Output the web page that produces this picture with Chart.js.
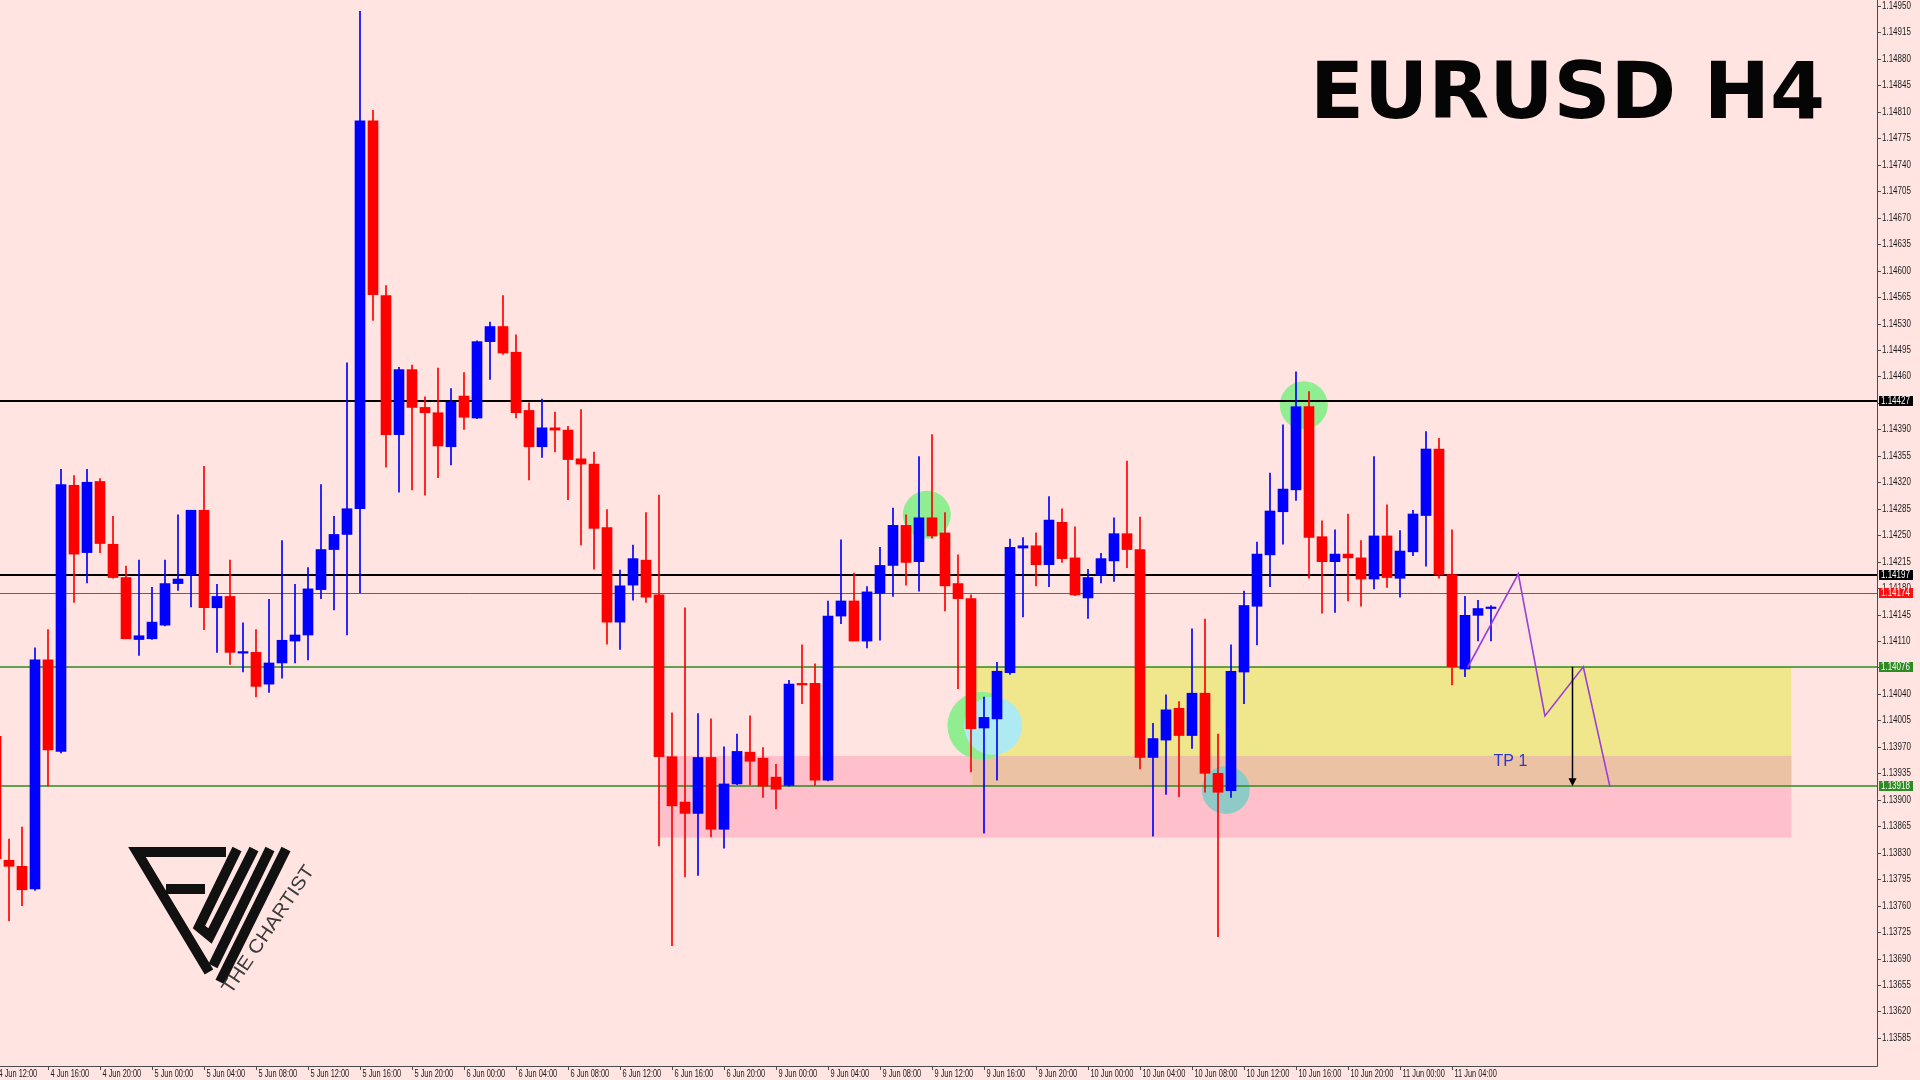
<!DOCTYPE html>
<html>
<head>
<meta charset="utf-8">
<title>EURUSD H4</title>
<script src="https://cdn.jsdelivr.net/npm/chart.js@4.4.1/dist/chart.umd.min.js"></script>
<style>
    html, body { margin: 0; padding: 0; background: #ffe4e1; overflow: hidden; }
    canvas { display: block; }
</style>
</head>
<body>
<canvas id="eurusdChart" width="1920" height="1080"></canvas>
<script>
// H1 candles, 4 Jun 12:00 -> 11 Jun 07:00
var opens = [
    1.13984, 1.13820, 1.13812, 1.13782, 1.14085, 1.13964, 1.14316, 1.14227, 1.14321, 1.14238,
    1.14194, 1.14112, 1.14113, 1.14131, 1.14186, 1.14198, 1.14283, 1.14154, 1.14169, 1.14094,
    1.14095, 1.14053, 1.14081, 1.14110, 1.14118, 1.14178, 1.14231, 1.14251, 1.14285, 1.14798,
    1.14567, 1.14383, 1.14469, 1.14419, 1.14412, 1.14367, 1.14434, 1.14405, 1.14506, 1.14526,
    1.14492, 1.14415, 1.14367, 1.14392, 1.14389, 1.14351, 1.14344, 1.14260, 1.14135, 1.14184,
    1.14217, 1.14171, 1.13957, 1.13897, 1.13882, 1.13956, 1.13861, 1.13921, 1.13963, 1.13955,
    1.13930, 1.13919, 1.14054, 1.14054, 1.13926, 1.14143, 1.14163, 1.14110, 1.14173, 1.14210,
    1.14263, 1.14215, 1.14273, 1.14253, 1.14186, 1.14166, 1.13995, 1.14007, 1.14068, 1.14233,
    1.14236, 1.14211, 1.14267, 1.14220, 1.14167, 1.14197, 1.14216, 1.14252, 1.14231, 1.13956,
    1.13979, 1.14021, 1.13985, 1.14041, 1.13935, 1.13912, 1.14069, 1.14156, 1.14224, 1.14281,
    1.14310, 1.14420, 1.14248, 1.14215, 1.14225, 1.14220, 1.14192, 1.14249, 1.14193, 1.14228,
    1.14276, 1.14364, 1.14198, 1.14073, 1.14144, 1.14153
];
var highs = [
    1.13990, 1.13848, 1.13864, 1.14101, 1.14125, 1.14337, 1.14329, 1.14337, 1.14325, 1.14275,
    1.14209, 1.14217, 1.14181, 1.14217, 1.14277, 1.14283, 1.14341, 1.14185, 1.14217, 1.14134,
    1.14125, 1.14165, 1.14243, 1.14185, 1.14207, 1.14317, 1.14275, 1.14478, 1.14943, 1.14812,
    1.14580, 1.14472, 1.14475, 1.14433, 1.14471, 1.14444, 1.14465, 1.14507, 1.14532, 1.14567,
    1.14515, 1.14425, 1.14430, 1.14413, 1.14394, 1.14416, 1.14360, 1.14284, 1.14204, 1.14237,
    1.14280, 1.14303, 1.14015, 1.14154, 1.14014, 1.14007, 1.13970, 1.13987, 1.14011, 1.13969,
    1.13947, 1.14058, 1.14105, 1.14080, 1.14163, 1.14244, 1.14200, 1.14182, 1.14234, 1.14286,
    1.14277, 1.14354, 1.14383, 1.14280, 1.14224, 1.14171, 1.14036, 1.14082, 1.14245, 1.14247,
    1.14253, 1.14301, 1.14285, 1.14261, 1.14205, 1.14226, 1.14273, 1.14348, 1.14274, 1.14001,
    1.14039, 1.14030, 1.14126, 1.14139, 1.13987, 1.14105, 1.14176, 1.14241, 1.14332, 1.14396,
    1.14466, 1.14440, 1.14269, 1.14257, 1.14278, 1.14243, 1.14354, 1.14290, 1.14256, 1.14283,
    1.14387, 1.14378, 1.14257, 1.14169, 1.14164, 1.14157
];
var lows = [
    1.13810, 1.13740, 1.13760, 1.13780, 1.13918, 1.13962, 1.14161, 1.14187, 1.14227, 1.14193,
    1.14113, 1.14091, 1.14112, 1.14130, 1.14177, 1.14155, 1.14125, 1.14095, 1.14079, 1.14069,
    1.14036, 1.14042, 1.14061, 1.14081, 1.14085, 1.14166, 1.14151, 1.14118, 1.14174, 1.14534,
    1.14340, 1.14307, 1.14310, 1.14303, 1.14326, 1.14343, 1.14390, 1.14404, 1.14456, 1.14489,
    1.14405, 1.14323, 1.14353, 1.14360, 1.14297, 1.14237, 1.14205, 1.14106, 1.14099, 1.14164,
    1.14161, 1.13839, 1.13707, 1.13798, 1.13800, 1.13851, 1.13836, 1.13920, 1.13920, 1.13903,
    1.13888, 1.13918, 1.14027, 1.13919, 1.13925, 1.14133, 1.14110, 1.14101, 1.14111, 1.14169,
    1.14184, 1.14176, 1.14246, 1.14150, 1.14047, 1.13937, 1.13856, 1.13926, 1.14066, 1.14142,
    1.14183, 1.14182, 1.14214, 1.14170, 1.14140, 1.14187, 1.14189, 1.14207, 1.13941, 1.13852,
    1.13907, 1.13904, 1.13968, 1.13910, 1.13719, 1.13903, 1.14027, 1.14105, 1.14182, 1.14238,
    1.14296, 1.14193, 1.14147, 1.14148, 1.14163, 1.14156, 1.14179, 1.14181, 1.14168, 1.14223,
    1.14209, 1.14193, 1.14052, 1.14063, 1.14110, 1.14110
];
var closes = [
    1.13822, 1.13812, 1.13781, 1.14085, 1.13966, 1.14317, 1.14225, 1.14320, 1.14239, 1.14194,
    1.14113, 1.14117, 1.14135, 1.14186, 1.14192, 1.14283, 1.14154, 1.14169, 1.14095, 1.14096,
    1.14050, 1.14081, 1.14111, 1.14118, 1.14179, 1.14231, 1.14251, 1.14285, 1.14798, 1.14568,
    1.14383, 1.14469, 1.14419, 1.14412, 1.14368, 1.14426, 1.14406, 1.14506, 1.14526, 1.14491,
    1.14412, 1.14367, 1.14392, 1.14389, 1.14350, 1.14344, 1.14259, 1.14135, 1.14183, 1.14219,
    1.14168, 1.13957, 1.13892, 1.13882, 1.13956, 1.13861, 1.13921, 1.13964, 1.13951, 1.13918,
    1.13914, 1.14053, 1.14052, 1.13926, 1.14143, 1.14163, 1.14110, 1.14175, 1.14210, 1.14263,
    1.14214, 1.14273, 1.14249, 1.14183, 1.14166, 1.13994, 1.14009, 1.14070, 1.14234, 1.14236,
    1.14211, 1.14270, 1.14219, 1.14171, 1.14194, 1.14219, 1.14252, 1.14231, 1.13956, 1.13981,
    1.14019, 1.13985, 1.14041, 1.13935, 1.13910, 1.14070, 1.14157, 1.14225, 1.14282, 1.14311,
    1.14420, 1.14247, 1.14215, 1.14225, 1.14220, 1.14192, 1.14249, 1.14194, 1.14229, 1.14278,
    1.14364, 1.14198, 1.14076, 1.14144, 1.14153, 1.14155
];

// time axis: one label every 4 bars
var timeLabels = [
    '4 Jun 12:00', '4 Jun 16:00', '4 Jun 20:00', '5 Jun 00:00', '5 Jun 04:00', '5 Jun 08:00',
    '5 Jun 12:00', '5 Jun 16:00', '5 Jun 20:00', '6 Jun 00:00', '6 Jun 04:00', '6 Jun 08:00',
    '6 Jun 12:00', '6 Jun 16:00', '6 Jun 20:00', '9 Jun 00:00', '9 Jun 04:00', '9 Jun 08:00',
    '9 Jun 12:00', '9 Jun 16:00', '9 Jun 20:00', '10 Jun 00:00', '10 Jun 04:00', '10 Jun 08:00',
    '10 Jun 12:00', '10 Jun 16:00', '10 Jun 20:00', '11 Jun 00:00', '11 Jun 04:00'
];
var priceTicks = [
    '1.14950', '1.14915', '1.14880', '1.14845', '1.14810', '1.14775', '1.14740', '1.14705',
    '1.14670', '1.14635', '1.14600', '1.14565', '1.14530', '1.14495', '1.14460', '1.14425',
    '1.14390', '1.14355', '1.14320', '1.14285', '1.14250', '1.14215', '1.14180', '1.14145',
    '1.14110', '1.14075', '1.14040', '1.14005', '1.13970', '1.13935', '1.13900', '1.13865',
    '1.13830', '1.13795', '1.13760', '1.13725', '1.13690', '1.13655', '1.13620', '1.13585'
];

// horizontal levels
var levelPrices = [1.14427, 1.14197, 1.14174, 1.14076, 1.13918];
var levelKinds = ['black', 'black', 'bid', 'green', 'green'];

// zones (bar index from/to, price top/bottom)
var demandZone = [51, 138.1, 1.13958, 1.13850];
var supportZone = [75.1, 138.1, 1.14076, 1.13918];

// marked points (bar index, price)
var markX = [71.6, 100.6, 75.8, 76.7, 94.6];
var markY = [1.14277, 1.14422, 1.13998, 1.13998, 1.13913];

// projected path
var pathX = [113.2, 117.1, 119.15, 122.1, 124.15];
var pathY = [1.14075, 1.14199, 1.14011, 1.14076, 1.13917];
var targetX = 121.2;
var targetFrom = 1.14076;
var targetTo = 1.13918;

var bodies = [];
var wicks = [];
var candleColors = [];
for (var i = 0; i < opens.length; i++) {
    bodies.push({ x: i, y: [opens[i], closes[i]] });
    wicks.push({ x: i, y: [lows[i], highs[i]] });
    candleColors.push(closes[i] >= opens[i] ? '#0000ff' : '#ff0000');
}

var levelStyle = {
    black: { line: '#000000', width: 2, box: '#000000' },
    bid: { line: '#ff2020', width: 1, box: '#ff1010' },
    green: { line: '#2e8b22', width: 1.5, box: '#2e8b22' }
};

function squeezeText(ctx, text, px, py, sx) {
    ctx.save();
    ctx.translate(px, py);
    ctx.scale(sx, 1);
    ctx.fillText(text, 0, 0);
    ctx.restore();
}

function drawZone(ctx, x, y, z, color) {
    var x1 = x.getPixelForValue(z[0]);
    var x2 = x.getPixelForValue(z[1]);
    var y1 = y.getPixelForValue(z[2]);
    var y2 = y.getPixelForValue(z[3]);
    ctx.fillStyle = color;
    ctx.fillRect(x1, y1, x2 - x1, y2 - y1);
}

// "FW / THE CHARTIST" watermark, bottom left
function drawLogo(ctx) {
    ctx.save();
    ctx.strokeStyle = '#111111';
    ctx.lineWidth = 10;
    ctx.lineJoin = 'miter';
    ctx.lineCap = 'butt';
    var strokes = [
        [[226, 852], [137, 852], [209, 972]],
        [[166, 889], [205, 889]],
        [[237, 849], [199, 927], [210, 936], [254, 849]],
        [[270, 849], [213, 966]],
        [[286, 849], [220, 982]]
    ];
    strokes.forEach(function (s) {
        ctx.beginPath();
        ctx.moveTo(s[0][0], s[0][1]);
        for (var k = 1; k < s.length; k++) ctx.lineTo(s[k][0], s[k][1]);
        ctx.stroke();
    });
    ctx.translate(231, 995);
    ctx.rotate(-56 * Math.PI / 180);
    ctx.fillStyle = '#3a3a3a';
    ctx.font = '19px "Liberation Sans", Arial, sans-serif';
    var tw = ctx.measureText('THE CHARTIST').width;
    ctx.scale(150 / tw, 1);
    ctx.fillText('THE CHARTIST', 0, 0);
    ctx.restore();
}

var chartDecor = {
    id: 'chartDecor',
    beforeDraw: function (chart) {
        var ctx = chart.ctx;
        ctx.save();
        ctx.fillStyle = '#ffe4e1';
        ctx.fillRect(0, 0, chart.width, chart.height);
        ctx.restore();
    },
    beforeDatasetsDraw: function (chart) {
        var ctx = chart.ctx;
        var x = chart.scales.x;
        var y = chart.scales.y;
        var area = chart.chartArea;
        ctx.save();
        ctx.beginPath();
        ctx.rect(area.left, area.top, area.right - area.left, area.bottom - area.top);
        ctx.clip();

        drawZone(ctx, x, y, demandZone, '#ffc0cb');
        drawZone(ctx, x, y, supportZone, '#f0e68c');
        var overlap = [
            Math.max(demandZone[0], supportZone[0]), Math.min(demandZone[1], supportZone[1]),
            Math.min(demandZone[2], supportZone[2]), Math.max(demandZone[3], supportZone[3])
        ];
        drawZone(ctx, x, y, overlap, '#ecc2a4');

        // circles
        var markColors = ['#90ee90', '#90ee90', '#90ee90', '#aeeaf2', '#8fcac6'];
        var markRadius = [24, 24, 34, 29, 24];
        for (var m = 0; m < markX.length; m++) {
            ctx.beginPath();
            ctx.fillStyle = markColors[m];
            ctx.arc(x.getPixelForValue(markX[m]), y.getPixelForValue(markY[m]), markRadius[m], 0, Math.PI * 2);
            ctx.fill();
        }

        // levels
        for (var l = 0; l < levelPrices.length; l++) {
            var st = levelStyle[levelKinds[l]];
            var py = Math.round(y.getPixelForValue(levelPrices[l])) + (st.width === 1 ? 0.5 : 0);
            ctx.beginPath();
            ctx.strokeStyle = st.line;
            ctx.lineWidth = st.width;
            ctx.moveTo(area.left, py);
            ctx.lineTo(area.right, py);
            ctx.stroke();
        }
        ctx.restore();
    },
    afterDatasetsDraw: function (chart) {
        var ctx = chart.ctx;
        var x = chart.scales.x;
        var y = chart.scales.y;
        ctx.save();
        // projected zigzag
        ctx.strokeStyle = '#9b3fd6';
        ctx.lineWidth = 1.6;
        ctx.beginPath();
        for (var p = 0; p < pathX.length; p++) {
            var px = x.getPixelForValue(pathX[p]);
            var py = y.getPixelForValue(pathY[p]);
            if (p === 0) ctx.moveTo(px, py); else ctx.lineTo(px, py);
        }
        ctx.stroke();

        // target arrow
        var ax = Math.round(x.getPixelForValue(targetX)) + 0.5;
        var ay1 = y.getPixelForValue(targetFrom);
        var ay2 = y.getPixelForValue(targetTo);
        ctx.strokeStyle = '#000000';
        ctx.lineWidth = 1.5;
        ctx.beginPath();
        ctx.moveTo(ax, ay1);
        ctx.lineTo(ax, ay2 - 6);
        ctx.stroke();
        ctx.fillStyle = '#000000';
        ctx.beginPath();
        ctx.moveTo(ax - 4, ay2 - 8);
        ctx.lineTo(ax + 4, ay2 - 8);
        ctx.lineTo(ax, ay2);
        ctx.closePath();
        ctx.fill();

        // TP label
        ctx.fillStyle = '#2f35c8';
        ctx.font = '16px "Liberation Sans", Arial, sans-serif';
        ctx.textBaseline = 'middle';
        ctx.fillText('TP 1', x.getPixelForValue(115.2), y.getPixelForValue(1.13951));
        ctx.restore();
    },
    afterDraw: function (chart) {
        var ctx = chart.ctx;
        var x = chart.scales.x;
        var y = chart.scales.y;
        var area = chart.chartArea;
        ctx.save();

        // frame
        ctx.strokeStyle = '#4a4a4a';
        ctx.lineWidth = 1;
        ctx.beginPath();
        ctx.moveTo(area.right + 0.5, 0);
        ctx.lineTo(area.right + 0.5, area.bottom + 0.5);
        ctx.lineTo(0, area.bottom + 0.5);
        ctx.stroke();

        // price scale
        ctx.fillStyle = '#1a1a1a';
        ctx.font = '10px "Liberation Sans", Arial, sans-serif';
        ctx.textBaseline = 'middle';
        priceTicks.forEach(function (t) {
            var py = Math.round(y.getPixelForValue(parseFloat(t))) + 0.5;
            ctx.beginPath();
            ctx.moveTo(area.right, py);
            ctx.lineTo(area.right + 4, py);
            ctx.stroke();
            squeezeText(ctx, t, area.right + 5, py, 0.8);
        });

        // time scale
        ctx.textBaseline = 'alphabetic';
        timeLabels.forEach(function (t, k) {
            var px = Math.round(x.getPixelForValue(k * 4)) + 0.5;
            ctx.beginPath();
            ctx.moveTo(px, area.bottom);
            ctx.lineTo(px, area.bottom + 4);
            ctx.stroke();
            squeezeText(ctx, t, px + 2, area.bottom + 11, 0.74);
        });

        // level price boxes
        ctx.textBaseline = 'middle';
        for (var l = 0; l < levelPrices.length; l++) {
            var st = levelStyle[levelKinds[l]];
            var by = Math.round(y.getPixelForValue(levelPrices[l]));
            ctx.fillStyle = st.box;
            ctx.fillRect(area.right + 2, by - 5, 34, 10);
            ctx.fillStyle = '#ffffff';
            squeezeText(ctx, levelPrices[l].toFixed(5), area.right + 4, by + 0.5, 0.8);
        }

        // title
        ctx.fillStyle = '#050505';
        ctx.font = 'bold 78px "DejaVu Sans", sans-serif';
        ctx.textBaseline = 'alphabetic';
        var title = 'EURUSD H4';
        var tw = ctx.measureText(title).width;
        squeezeText(ctx, title, 1310, 118, 515 / tw);

        drawLogo(ctx);
        ctx.restore();
    }
};

new Chart(document.getElementById('eurusdChart'), {
    type: 'bar',
    data: {
        datasets: [{
            label: 'wick',
            data: wicks,
            backgroundColor: candleColors,
            barThickness: 1,
            grouped: false,
            order: 2
        }, {
            label: 'body',
            data: bodies,
            backgroundColor: candleColors,
            barThickness: 10,
            minBarLength: 1,
            grouped: false,
            order: 1
        }]
    },
    options: {
        responsive: false,
        devicePixelRatio: 1,
        animation: false,
        events: [],
        layout: { padding: { left: 0, top: 0, right: 43, bottom: 14 } },
        plugins: { legend: { display: false }, tooltip: { enabled: false } },
        scales: {
            x: {
                type: 'linear',
                min: 4 / 13,
                max: 4 / 13 + 1877 / 13,
                offset: false,
                display: false
            },
            y: {
                min: 1.135479,
                max: 1.149579,
                display: false
            }
        }
    },
    plugins: [chartDecor]
});
</script>
</body>
</html>
